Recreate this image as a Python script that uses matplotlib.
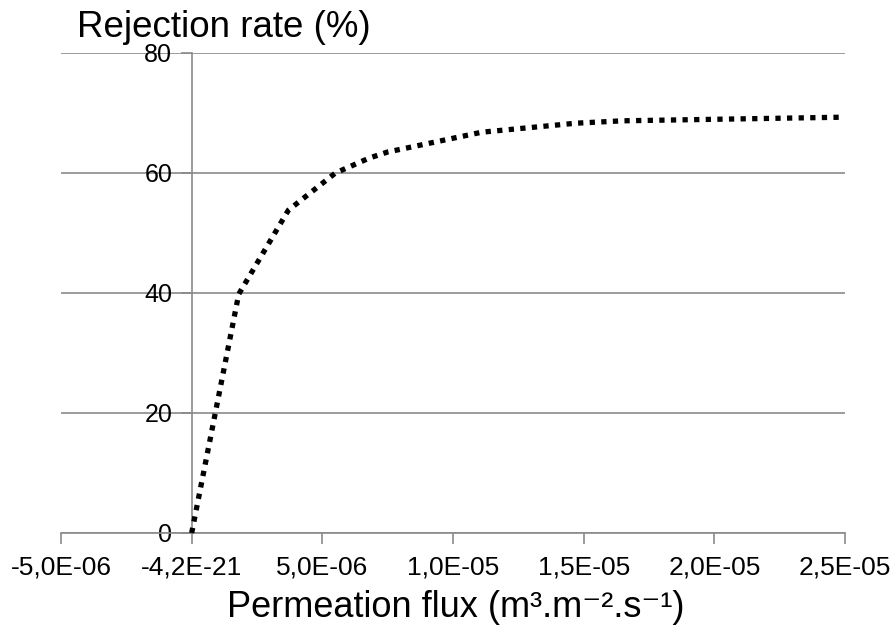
import matplotlib
matplotlib.use("Agg")
import matplotlib.pyplot as plt

plt.rcParams['font.family'] = ['Liberation Sans', 'DejaVu Sans']

# Data
flux = [0.0, 1.8e-6, 3.7e-6, 5.5e-6, 6.8e-6, 7.5e-6, 1.11e-5, 1.47e-5, 1.65e-5, 2.49e-5]
rejection = [0.0, 39.8, 53.8, 60.0, 62.5, 63.5, 66.8, 68.3, 68.7, 69.3]

x_ticks = [-5e-6, 0.0, 5e-6, 1e-5, 1.5e-5, 2e-5, 2.5e-5]
x_tick_labels = ["-5,0E-06", "-4,2E-21", "5,0E-06", "1,0E-05", "1,5E-05", "2,0E-05", "2,5E-05"]
y_ticks = [0, 20, 40, 60, 80]
y_tick_labels = ["0", "20", "40", "60", "80"]

title_text = "Rejection rate (%)"
xlabel_text = "Permeation flux (m³.m⁻².s⁻¹)"

GRAY = "#8a8a8a"

fig = plt.figure(figsize=(8.91, 6.28), dpi=100)
ax = fig.add_axes([61/891, (628-533)/628, (845-61)/891, (533-53)/628])

ax.plot(flux, rejection, color="black", linewidth=3.8,
        linestyle=(0, (1.0, 1.2)), dash_capstyle="butt", solid_capstyle="butt",
        zorder=3, clip_on=False)

ax.set_xlim(-5e-6, 2.5e-5)
ax.set_ylim(0, 80)

ax.set_xticks(x_ticks)
ax.set_xticklabels(x_tick_labels)
ax.set_yticks(y_ticks)
ax.set_yticklabels(y_tick_labels)

ax.spines['top'].set_visible(False)
ax.spines['right'].set_visible(False)
ax.spines['left'].set_position(('data', 0))
for s in ['left', 'bottom']:
    ax.spines[s].set_color(GRAY)
    ax.spines[s].set_linewidth(1.2)

ax.yaxis.grid(True, color=GRAY, linewidth=1.2)
ax.xaxis.grid(False)
ax.set_axisbelow(True)

ax.tick_params(axis='x', direction='out', length=8, width=1.2, color=GRAY,
               labelsize=19, pad=8, labelcolor='black')
ax.tick_params(axis='y', direction='out', length=8, width=1.2, color=GRAY,
               labelsize=18, pad=6, labelcolor='black')

fig.text(77/891, (628-37)/628, title_text, fontsize=26.5, ha='left', va='baseline')
fig.text(456/891, (628-617)/628, xlabel_text, fontsize=26, ha='center', va='baseline')

fig.savefig("out.png", dpi=100)
